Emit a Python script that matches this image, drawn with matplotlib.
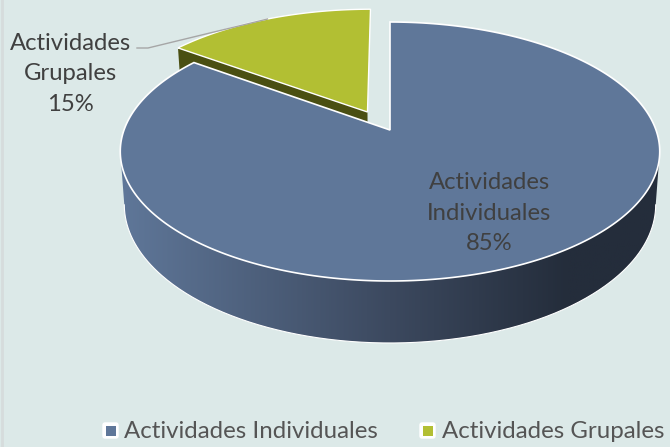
import numpy as np
import matplotlib
matplotlib.use('Agg')
import matplotlib.pyplot as plt
from matplotlib.patches import Polygon, Rectangle, FancyBboxPatch
from matplotlib.colors import LinearSegmentedColormap

labels = ['Actividades Individuales', 'Actividades Grupales']
label_lines = ['Actividades\nIndividuales\n85%', 'Actividades\nGrupales\n15%']
values = [85, 15]

BG = '#dce9e8'
BLUE = '#5f7799'
GREEN = '#b2bf33'
OLIVE = '#4a4f12'
TXT = '#404040'
plt.rcParams['font.family'] = ['Lato', 'DejaVu Sans']

# perspective of the pie plane, in pixels
CX, CY = 390, 130
R, A, K = 266, -104.35, 0.166
EXPLODE = 0.183
DEPTH = 51.7
SHRINK = 0.985
GREEN_SHIFT = (-1, 2)

def project(u, v, bottom=False):
  w = 1 + K * v
  x = R * u / w
  y = (A * v + CY) / w
  if bottom:
    x = x * SHRINK
    y = y + DEPTH / w
  return CX + x, y

def arc(a0, a1, n=200):
  # angles clockwise from the top, degrees
  t = np.radians(np.linspace(a0, a1, n))
  return np.sin(t), np.cos(t)

fig = plt.figure(figsize=(6.7, 4.47), dpi=100, facecolor=BG)
ax = fig.add_axes([0, 0, 1, 1])
ax.set_xlim(0, 670)
ax.set_ylim(447, 0)
ax.axis('off')
ax.plot([2, 2], [0, 447], color='#d6dcdc', lw=2, zorder=1)

share = np.array(values) / sum(values)
big_end = 360 * share[0]
mid = (big_end + 360) / 2
ox = EXPLODE * np.sin(np.radians(mid))
oy = EXPLODE * np.cos(np.radians(mid))

# exploded slice: wall behind, then top
u, v = arc(big_end, 360)
gx, gy = project(u + ox, v + oy)
ax_, ay_ = project(np.array([ox]), np.array([oy]))
eu = np.array([ox, ox + np.sin(np.radians(big_end))])
ev = np.array([oy, oy + np.cos(np.radians(big_end))])
t1x, t1y = project(eu, ev)
b1x, b1y = project(eu, ev, bottom=True)
sx, sy = GREEN_SHIFT
ax.add_patch(Polygon(np.c_[np.r_[t1x, b1x[::-1]] + sx, np.r_[t1y, b1y[::-1]] + sy],
                     fc=OLIVE, ec='none', zorder=2))
ax.add_patch(Polygon(np.c_[np.r_[ax_, gx] + sx, np.r_[ay_, gy] + sy], fc=GREEN, ec='white', lw=1, zorder=3))

# big slice wall with gradient
u, v = arc(0, 360, 720)
tx, ty = project(u, v)
bx, by = project(u, v, bottom=True)
def front(xs, ys):
  i0, i1 = np.argmax(xs), np.argmin(xs)
  return xs[i0:i1 + 1], ys[i0:i1 + 1]
ftx, fty = front(tx, ty)
fbx, fby = front(bx, by)
wall = Polygon(np.c_[np.r_[ftx, fbx[::-1]], np.r_[fty, fby[::-1]]], fc='none', ec='none',
               transform=ax.transData)
ax.add_patch(wall)
cmap = LinearSegmentedColormap.from_list('wall', [(0, '#5f7799'), (0.5, '#3c495f'), (0.83, '#242d3b'), (1, '#242d3b')])
im = ax.imshow(np.linspace(0, 1, 256)[None, :], cmap=cmap, extent=[120, 660, 360, 130], aspect='auto', zorder=4)
im.set_clip_path(wall)
ax.set_xlim(0, 670)
ax.set_ylim(447, 0)
ax.plot(fbx, fby, color='white', lw=0.8, zorder=5)

# big slice top
u, v = arc(0, big_end, 600)
px, py = project(u, v)
cx_, cy_ = project(np.array([0.0]), np.array([0.0]))
ax.add_patch(Polygon(np.c_[np.r_[cx_, px], np.r_[cy_, py]], fc=BLUE, ec='white', lw=1.2, zorder=6))

# labels
ax.text(489, 213, label_lines[0], ha='center', va='center', fontsize=17.2, color=TXT, linespacing=1.55, zorder=8)
ax.text(70, 74, label_lines[1], ha='center', va='center', fontsize=17.2, color=TXT, linespacing=1.55, zorder=8)

# leader line to the middle of the small slice
lx, ly = project(np.array([ox + np.sin(np.radians(mid))]), np.array([oy + np.cos(np.radians(mid))]))
ax.plot([137, 148, lx[0] + sx], [48, 48, ly[0] + sy], color='#a6a6a6', lw=1, zorder=7)

# legend
for x0, col, name in zip([102, 419], [BLUE, GREEN], labels):
  ax.add_patch(FancyBboxPatch((x0 + 1, 423), 15, 15, boxstyle='round,pad=0,rounding_size=2', fc='white', ec='white', lw=1, zorder=8))
  ax.add_patch(Rectangle((x0 + 4, 426), 9.5, 10, fc=col, ec='none', zorder=9))
  ax.text(x0 + 22.5, 431, name, ha='left', va='center', fontsize=17.3, color='#555555', zorder=9)

fig.savefig('out.png', dpi=100, facecolor=BG)
